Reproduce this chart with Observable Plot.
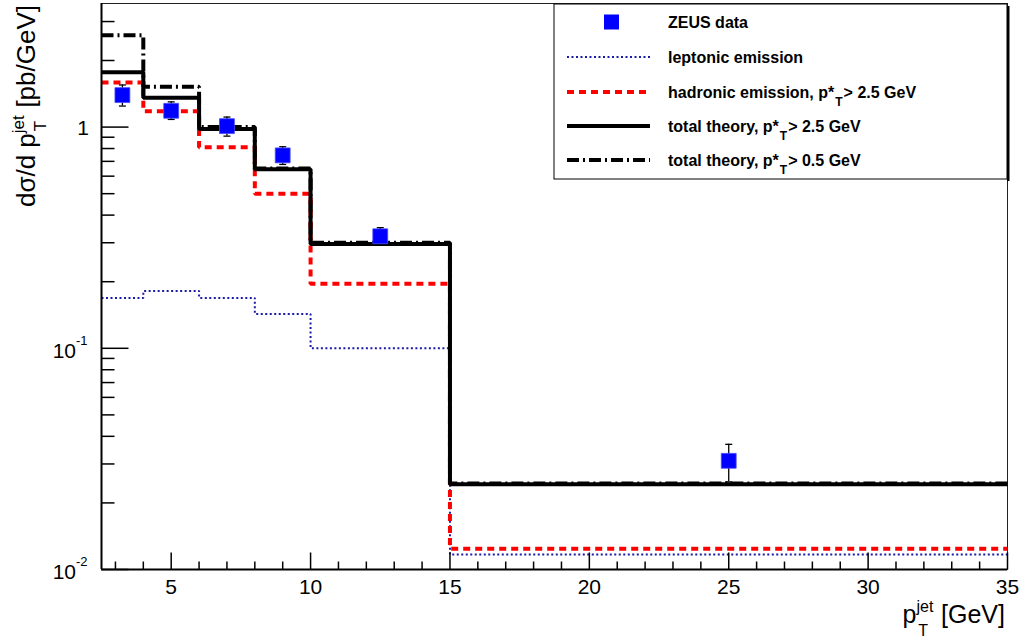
<!DOCTYPE html>
<html>
<head>
<meta charset="utf-8">
<script src="https://cdn.jsdelivr.net/npm/d3@7"></script>
<script src="https://cdn.jsdelivr.net/npm/@observablehq/plot@0.6"></script>
<style>
  html, body { margin: 0; padding: 0; background: #fff; }
  #wrap { position: relative; width: 1024px; height: 641px; font-family: "Liberation Sans", Arial, sans-serif; }
  #overlay { position: absolute; left: 0; top: 0; pointer-events: none; }
</style>
</head>
<body>
<div id="wrap"></div>
<script>
// ---- data ----
const binEdges = [2.5, 4, 6, 8, 10, 15, 35];
const leptonic = [0.169, 0.1815, 0.169, 0.143, 0.100, 0.0117];
const hadronic = [1.59, 1.18, 0.81, 0.50, 0.196, 0.0124];
const total25  = [1.77, 1.357, 0.98, 0.644, 0.296, 0.0243];
const total05  = [2.60, 1.52, 1.00, 0.65, 0.300, 0.0245];
const dataX  = [3.25, 5, 7, 9, 12.5, 25];
const dataY  = [1.395, 1.185, 1.01, 0.745, 0.321, 0.031];
const dataLo = [1.245, 1.083, 0.91, 0.678, 0.295, 0.0249];
const dataHi = [1.55, 1.30, 1.11, 0.815, 0.351, 0.0368];
const xMajorTicks = [5, 10, 15, 20, 25, 30, 35];
const xMinorTicks = [3,4,6,7,8,9,11,12,13,14,16,17,18,19,21,22,23,24,26,27,28,29,31,32,33,34];
const yMajorTicks = [0.01, 0.1, 1];
const yMinorTicks = [0.02,0.03,0.04,0.05,0.06,0.07,0.08,0.09,0.2,0.3,0.4,0.5,0.6,0.7,0.8,0.9,2,3];
const yTickBase = ["10", "10", "1"];
const yTickExp  = ["-2", "-1", ""];
const legendLabels = ["ZEUS data", "leptonic emission", "hadronic emission, p*", "total theory, p*", "total theory, p*"];
const legendSuffix = ["", "", "> 2.5 GeV", "> 2.5 GeV", "> 0.5 GeV"];
const xDomain = [2.5, 35];
const yDomain = [0.01, 3.62];

const steps = vals => binEdges.map((e, i) => ({x: e, y: vals[Math.min(i, vals.length - 1)]}));
const points = dataX.map((x, i) => ({x, y: dataY[i], lo: dataLo[i], hi: dataHi[i]}));

const tickSym = (dx, dy) => ({draw(ctx) { ctx.moveTo(0, 0); ctx.lineTo(dx, dy); }});
const capSym = {draw(ctx) { ctx.moveTo(-3.5, 0); ctx.lineTo(3.5, 0); }};

const xMin = xDomain[0], yMin = yDomain[0];

const common = {strokeLinecap: "butt", strokeLinejoin: "miter"};
const styles = {
  total05: {stroke: "black", strokeWidth: 4, strokeDasharray: "12,4,2,4"},
  leptonic: {stroke: "#1a1aa8", strokeWidth: 2, strokeDasharray: "2,2.5"},
  hadronic: {stroke: "#ff0000", strokeWidth: 4, strokeDasharray: "7,5"},
  total25: {stroke: "black", strokeWidth: 4}
};

const chart = Plot.plot({
  width: 1024,
  height: 641,
  marginLeft: 101,
  marginRight: 17,
  marginTop: 3,
  marginBottom: 72,
  style: {fontFamily: "'Liberation Sans', Arial, sans-serif", fontSize: "21px", background: "white", color: "black"},
  x: {domain: xDomain, axis: null},
  y: {type: "log", domain: yDomain, axis: null},
  marks: [
    Plot.frame({stroke: "#222", strokeWidth: 1}),
    // histograms
    Plot.line(steps(total05), {x: "x", y: "y", curve: "step-after", ...common, ...styles.total05}),
    Plot.line(steps(leptonic), {x: "x", y: "y", curve: "step-after", ...common, ...styles.leptonic}),
    Plot.line(steps(hadronic), {x: "x", y: "y", curve: "step-after", ...common, ...styles.hadronic}),
    Plot.line(steps(total25), {x: "x", y: "y", curve: "step-after", ...common, ...styles.total25}),
    // data
    Plot.ruleX(points, {x: "x", y1: "lo", y2: "hi", stroke: "black", strokeWidth: 1.3}),
    Plot.dot(points, {x: "x", y: "lo", symbol: capSym, r: 3, fill: "none", stroke: "black", strokeWidth: 1.3}),
    Plot.dot(points, {x: "x", y: "hi", symbol: capSym, r: 3, fill: "none", stroke: "black", strokeWidth: 1.3}),
    Plot.dot(points, {x: "x", y: "y", symbol: "square", r: 8.4, fill: "#0000ff", stroke: "#4a4aff", strokeWidth: 0.8}),
    // axes lines
    Plot.ruleX([xMin], {x: d => d, stroke: "black", strokeWidth: 2}),
    Plot.ruleY([yMin], {y: d => d, stroke: "black", strokeWidth: 2}),
    // ticks
    Plot.dot(xMajorTicks, {x: d => d, y: () => yMin, symbol: tickSym(0, -17), r: 3, fill: "none", stroke: "black", strokeWidth: 1.5}),
    Plot.dot(xMinorTicks, {x: d => d, y: () => yMin, symbol: tickSym(0, -8), r: 3, fill: "none", stroke: "black", strokeWidth: 1.5}),
    Plot.dot(yMajorTicks, {y: d => d, x: () => xMin, symbol: tickSym(27, 0), r: 3, fill: "none", stroke: "black", strokeWidth: 1.5}),
    Plot.dot(yMinorTicks, {y: d => d, x: () => xMin, symbol: tickSym(13, 0), r: 3, fill: "none", stroke: "black", strokeWidth: 1.5}),
    // x tick labels
    Plot.text(xMajorTicks, {x: d => d, y: () => yMin, text: d => String(d), dy: 18, fontSize: 21, textAnchor: "middle", fill: "black"})
  ]
});

const wrap = document.getElementById("wrap");
wrap.appendChild(chart);

// overlay: y tick labels (superscripts), axis titles and legend, positioned with the chart's own scales
const sx = chart.scale("x"), sy = chart.scale("y");
const ov = d3.select(wrap).append("svg").attr("id", "overlay").attr("width", 1024).attr("height", 641)
  .attr("font-family", "'Liberation Sans', Arial, sans-serif");

const x0 = sx.apply(xMin);
yMajorTicks.forEach((v, i) => {
  const py = sy.apply(v);
  if (yTickExp[i]) {
    ov.append("text").attr("x", x0 - 25).attr("y", py + 10).attr("text-anchor", "end").attr("font-size", 21).text(yTickBase[i]);
    ov.append("text").attr("x", x0 - 25).attr("y", py - 3).attr("text-anchor", "start").attr("font-size", 13).text(yTickExp[i]);
  } else {
    ov.append("text").attr("x", x0 - 12).attr("y", py + 8).attr("text-anchor", "end").attr("font-size", 21).text(yTickBase[i]);
  }
});

// y axis title
const yt = ov.append("text").attr("transform", `translate(35,5) rotate(-90)`).attr("text-anchor", "end").attr("font-size", 26);
yt.append("tspan").text("dσ/d p");
yt.append("tspan").attr("dy", -11).attr("font-size", 17).text("jet");
yt.append("tspan").attr("dx", -16).attr("dy", 22).attr("font-size", 17).text("T");
yt.append("tspan").attr("dx", 6).attr("dy", -11).text(" [pb/GeV]");

// x axis title
const xt = ov.append("text").attr("x", 1005).attr("y", 623).attr("text-anchor", "end").attr("font-size", 25);
xt.append("tspan").text("p");
xt.append("tspan").attr("dy", -11).attr("font-size", 16).text("jet");
xt.append("tspan").attr("dx", -15).attr("dy", 24).attr("font-size", 16).text("T");
xt.append("tspan").attr("dx", 6).attr("dy", -13).text(" [GeV]");

// legend
const L = {x: 554, y: 4, w: 453, h: 175};
ov.append("rect").attr("x", L.x + L.w).attr("y", L.y + 2).attr("width", 2.5).attr("height", L.h).attr("fill", "black");
ov.append("rect").attr("x", L.x).attr("y", L.y).attr("width", L.w).attr("height", L.h).attr("fill", "white").attr("stroke", "black").attr("stroke-width", 1);
const rows = [22, 57, 92, 126, 160];
const keyStyles = [null, styles.leptonic, styles.hadronic, styles.total25, styles.total05];
rows.forEach((ry, i) => {
  if (i === 0) {
    ov.append("rect").attr("x", 604).attr("y", ry - 7.5).attr("width", 15).attr("height", 15).attr("fill", "#0000ff");
  } else {
    const s = keyStyles[i];
    ov.append("line").attr("x1", 567).attr("x2", 650).attr("y1", ry).attr("y2", ry)
      .attr("stroke", s.stroke).attr("stroke-width", s.strokeWidth).attr("stroke-dasharray", s.strokeDasharray || null);
  }
  const t = ov.append("text").attr("x", 668).attr("y", ry + 6).attr("font-size", 16).attr("font-weight", "bold");
  t.append("tspan").text(legendLabels[i]);
  if (legendSuffix[i]) {
    t.append("tspan").attr("dx", 1).attr("dy", 8).attr("font-size", 12).text("T");
    t.append("tspan").attr("dx", 1).attr("dy", -8).text(legendSuffix[i]);
  }
});
</script>
</body>
</html>
